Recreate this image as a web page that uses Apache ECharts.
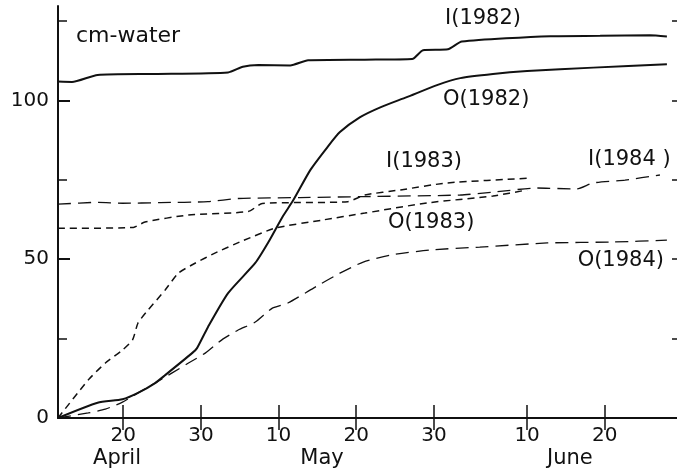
<!DOCTYPE html>
<html>
<head>
<meta charset="utf-8">
<script src="https://cdn.jsdelivr.net/npm/echarts@6.0.0/dist/echarts.min.js"></script>
<style>
  html, body { margin: 0; padding: 0; background: #fff; }
  #chart { width: 677px; height: 473px; }
</style>
</head>
<body>
<div id="chart"></div>
<script>
// x = day counted from 1 April (May 10 = 40, June 10 = 72), y = cm water
const xTickDays = [20, 30, 40, 50, 60, 72, 82];
const xTickLabels = ['20', '30', '10', '20', '30', '10', '20'];
const months = ['April', 'May', 'June'];
const monthDays = [19.2, 45.6, 77.5];
const yMajor = [0, 50, 100];
const yMinor = [25, 75, 125];
const yAll = [0, 25, 50, 75, 100, 125];

const I1982 = [[11.6, 105.9], [13.4, 105.8], [16.7, 108], [24.1, 108.3], [33.5, 108.8],
  [35.4, 110.6], [37.4, 111.1], [41.5, 111], [43.8, 112.6], [51.1, 112.8], [57.2, 113],
  [58.6, 115.8], [61.8, 116.1], [63.6, 118.5], [75, 120.2], [81.4, 120.3], [87.8, 120.5], [90, 120.1]];
const O1982 = [[11.6, 0], [16.7, 4.8], [19.9, 5.9], [21.9, 7.9], [24.1, 11], [25.4, 13.5],
  [28.9, 20.5], [29.5, 22], [30.9, 28.6], [33.5, 39.3], [37, 48.8], [38.7, 55.4], [40.5, 63.3],
  [41.9, 68.6], [44.1, 78.1], [46.3, 85.3], [47.9, 90], [50.5, 94.7], [53.1, 97.8], [56.5, 101],
  [60.4, 104.8], [63.4, 107], [67.6, 108.3], [72, 109.2], [80.5, 110.3], [90, 111.4]];
const I1983 = [[11.6, 59.7], [21.3, 60], [22.8, 61.7], [28.4, 63.9], [36.1, 65], [37.9, 67.5],
  [48.9, 68.1], [51.1, 70.2], [55.7, 71.8], [61.7, 74], [72.4, 75.5]];
const O1983 = [[11.6, 0], [15.5, 12], [17.7, 17.3], [19.9, 21.4], [21.2, 24.6], [21.9, 29.9],
  [23.2, 34], [25.4, 40.3], [27.1, 45.6], [29.3, 48.8], [31.8, 51.9], [35.3, 55.7], [39.6, 59.8],
  [45.6, 62.3], [51.1, 64.5], [59.1, 67.7], [67.6, 69.9], [72, 71.8]];
const I1984 = [[11.6, 67.3], [16.8, 67.9], [19.9, 67.6], [24.8, 67.8], [30.9, 68.1], [34.8, 69.1],
  [42.8, 69.4], [51.1, 69.7], [63.4, 70.2], [67.6, 71.1], [73.3, 72.4], [78.4, 72.1], [80.5, 74],
  [84.6, 74.9], [89.1, 76.5]];
const O1984 = [[11.6, 0], [15.5, 1.6], [17.7, 2.8], [19.9, 5], [21.9, 7.9], [24.1, 11], [26.3, 14.2],
  [28.4, 17.3], [30.6, 20.5], [32.7, 24.6], [34.8, 27.7], [37, 30.2], [39.2, 34.6], [41.2, 36.2],
  [44.5, 40.9], [47.9, 45.6], [50.9, 49.1], [54.4, 51.3], [59.5, 52.9], [65.9, 53.8], [74.6, 55.1],
  [83.1, 55.4], [90, 56]];

const FONT = 'DejaVu Sans';
const INK = '#111';

function lineSeries(name, data, type, width) {
  return {
    name, type: 'line', data, xAxisIndex: 0, yAxisIndex: 0,
    showSymbol: false, smooth: 0.2, silent: true,
    lineStyle: { color: INK, width, type }
  };
}

let chart = echarts.init(document.getElementById('chart'));

const xCommon = { type: 'value', min: 11.6, max: 91.3, splitLine: { show: false } };
const yCommon = { type: 'value', min: 0, max: 129.7, splitLine: { show: false } };

chart.setOption({
  animation: false,
  backgroundColor: '#fff',
  grid: { left: 58, right: 0, top: 6, bottom: 55 },
  xAxis: [
    Object.assign({}, xCommon, {
      position: 'bottom',
      axisLine: { lineStyle: { color: INK, width: 2 } },
      axisTick: { inside: true, length: 13, customValues: xTickDays, lineStyle: { color: INK, width: 1.5 } },
      axisLabel: {
        customValues: xTickDays, margin: 8, color: INK, fontFamily: FONT, fontSize: 20,
        formatter: v => xTickLabels[xTickDays.indexOf(Math.round(v))] || ''
      }
    }),
    Object.assign({}, xCommon, {
      position: 'top',
      axisLine: { lineStyle: { color: INK, width: 1.5 } },
      axisTick: { inside: true, length: 12, customValues: xTickDays, lineStyle: { color: INK, width: 1.5 } },
      axisLabel: { show: false }
    })
  ],
  yAxis: [
    Object.assign({}, yCommon, {
      position: 'left',
      axisLine: { lineStyle: { color: INK, width: 2 } },
      axisTick: { inside: true, length: 12, customValues: yMajor, lineStyle: { color: INK, width: 2 } },
      axisLabel: { customValues: yMajor, margin: 9, color: INK, fontFamily: FONT, fontSize: 20 }
    }),
    Object.assign({}, yCommon, {
      position: 'left',
      axisLine: { show: false },
      axisTick: { inside: true, length: 9, customValues: yMinor, lineStyle: { color: INK, width: 1.5 } },
      axisLabel: { show: false }
    }),
    Object.assign({}, yCommon, {
      position: 'right',
      axisLine: { show: false },
      axisTick: { inside: true, length: 5, customValues: yAll, lineStyle: { color: INK, width: 1.5 } },
      axisLabel: { show: false }
    })
  ],
  series: [
    lineSeries('I(1982)', I1982, 'solid', 2),
    lineSeries('O(1982)', O1982, 'solid', 2),
    lineSeries('I(1983)', I1983, [7, 5], 1.5),
    lineSeries('O(1983)', O1983, [7, 5], 1.5),
    lineSeries('I(1984)', I1984, [13, 7], 1.3),
    lineSeries('O(1984)', O1984, [13, 7], 1.3)
  ]
});

// text placed on the picture: unit, curve names, month names
function txt(text, x, y, align, size) {
  return {
    type: 'text', x, y, silent: true,
    style: {
      text, fill: INK, font: (size || 21) + 'px "' + FONT + '"',
      align: align || 'left', verticalAlign: 'middle'
    }
  };
}
const baseY = chart.convertToPixel({ yAxisIndex: 0 }, 0);
const monthTexts = months.map((m, i) =>
  txt(m, chart.convertToPixel({ xAxisIndex: 0 }, monthDays[i]), baseY + 41, 'center', 21));

chart.setOption({
  graphic: [
    txt('cm-water', 76, 36, 'left', 22),
    txt('I(1982)', 445, 19),
    txt('O(1982)', 443, 100),
    txt('I(1983)', 386, 162),
    txt('I(1984 )', 588, 160),
    txt('O(1983)', 388, 223),
    txt('O(1984)', 664, 261, 'right')
  ].concat(monthTexts)
});
</script>
</body>
</html>
